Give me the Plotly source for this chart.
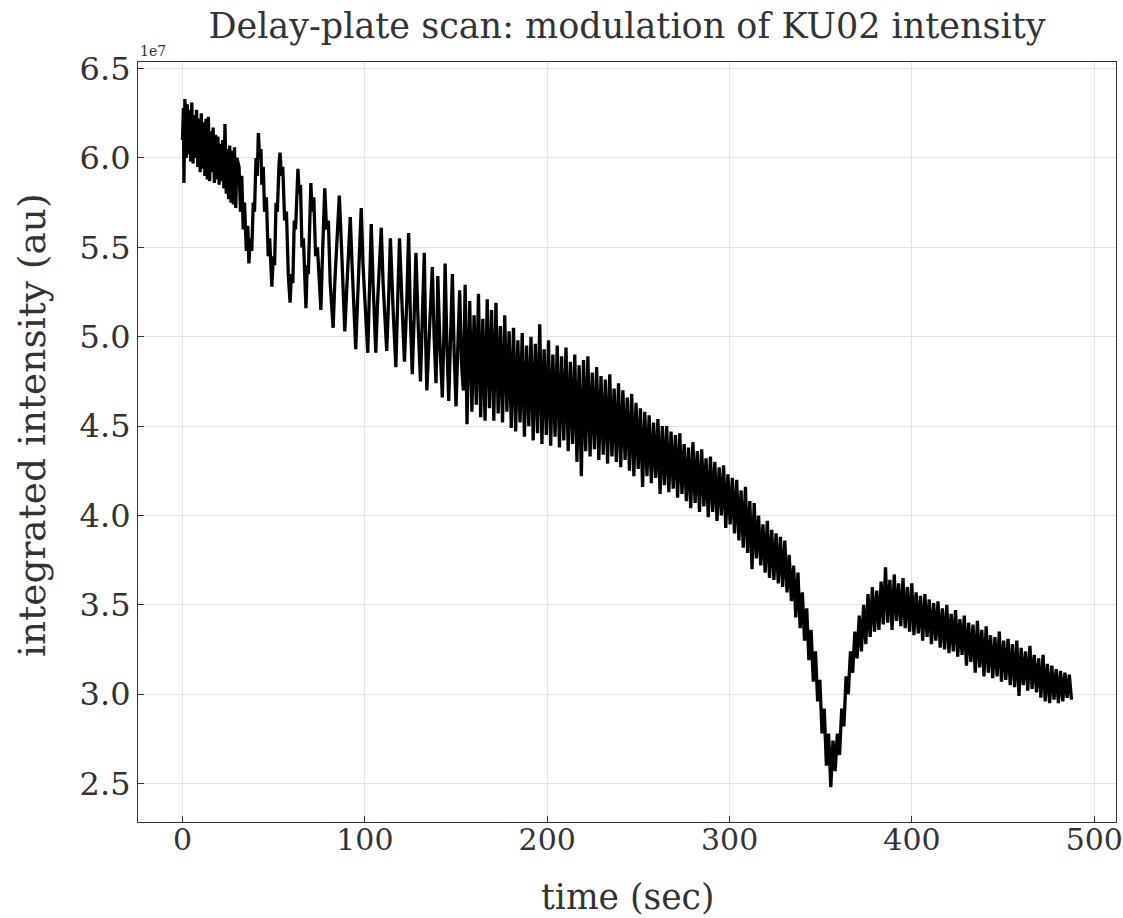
import numpy as np
import plotly.graph_objects as go

# ---- data (intensity in units of 1e7) ----
# early segment: extrema (time in sec)
t_early = [0, 0.5, 0.8, 1.3, 2.0, 2.6, 3.2, 3.8, 4.5, 5.1, 5.8, 6.4, 7.1, 7.7, 8.4, 9.0, 9.7, 10.3,
           11.0, 11.6, 12.3, 12.9, 13.6, 14.2, 14.9, 15.5, 16.2, 16.8, 17.5, 18.1, 18.8, 19.4, 20.1,
           20.7, 21.4, 22.0, 22.7, 23.3, 24.0, 24.6, 25.3, 25.9, 26.6, 27.2, 27.9, 28.5, 29.2, 29.8,
           31.0, 31.8, 32.5, 33.3, 34.0, 35.0, 35.8, 36.4, 37.2, 38.0, 38.8, 39.5, 40.3, 41.0, 41.6,
           42.3, 43.0, 43.5, 44.3, 45.0, 46.0, 47.0, 47.8, 49.0, 49.8, 50.5, 51.3, 52.0, 53.0, 53.5,
           54.2, 55.0, 56.0, 57.0, 58.0, 59.0, 59.7, 60.5, 61.3, 62.0, 63.3, 64.0, 64.7, 65.5, 66.3,
           67.7, 68.4, 69.0, 70.4, 71.0, 72.0, 73.0, 74.0, 75.9, 76.6, 77.2, 78.0, 79.0, 80.0, 81.0,
           82.6, 83.5, 84.5, 86.0, 87.0, 88.0, 89.0, 90.0, 91.0, 92.0, 93.0, 94.0, 95.0, 96.0, 97.0,
           98.0, 99.0, 100.0, 101.6, 102.5, 103.5, 104.5, 106.0, 107.0, 109.0, 110.0, 112.0, 113.0,
           114.0, 115.5, 117.0, 118.0, 119.0, 120.5, 121.7, 123.0, 124.0, 125.0, 126.0, 127.0, 128.0,
           129.3, 130.5, 131.5, 132.6, 133.3, 134.0, 135.5, 137.0, 138.0, 139.0, 139.6, 140.0, 141.2,
           142.5, 143.3, 144.0, 145.0, 146.0, 147.0, 148.0, 149.0, 150.0, 151.0, 152.0, 153.0, 154.0,
           155.0, 156.0]
v_early = [6.10, 6.28, 5.86, 6.33, 6.00, 6.30, 6.02, 6.27, 5.98, 6.31, 5.97, 6.24, 6.00, 6.27, 5.95,
           6.22, 5.92, 6.25, 5.94, 6.20, 5.90, 6.22, 5.88, 6.23, 5.87, 6.15, 5.92, 6.17, 5.86, 6.13,
           5.88, 6.12, 5.85, 6.08, 5.87, 6.10, 5.83, 6.19, 5.80, 6.05, 5.77, 6.07, 5.75, 6.04, 5.74,
           6.06, 5.72, 6.00,
           5.95, 5.70, 5.90, 5.60, 5.75, 5.48, 5.62, 5.41, 5.55, 5.48, 5.75, 5.70, 6.00, 5.90, 6.14,
           6.00, 6.05, 5.85, 5.95, 5.70, 5.78, 5.45, 5.55, 5.28, 5.45, 5.40, 5.75, 5.70, 5.98, 6.03,
           5.90, 5.95, 5.65, 5.70, 5.35, 5.19, 5.35, 5.30, 5.65, 5.60, 5.94, 5.80, 5.85, 5.50, 5.55,
           5.16, 5.40, 5.35, 5.86, 5.70, 5.78, 5.45, 5.50, 5.15, 5.40, 5.55, 5.83, 5.60, 5.65, 5.30,
           5.05, 5.30, 5.50, 5.79, 5.55, 5.30, 5.03, 5.25, 5.45, 5.67, 5.40, 5.20, 4.93, 5.20, 5.45,
           5.72, 5.40, 5.20, 4.91, 5.25, 5.63, 5.30, 4.91, 5.20, 5.61, 5.30, 4.92, 5.20,
           5.55, 5.15, 4.83, 5.20, 5.55, 5.15, 4.86, 5.20, 5.58, 5.10, 4.79, 5.10, 5.47,
           5.05, 4.75, 5.10, 5.47, 5.00, 4.70, 5.05, 5.39, 5.00, 4.74, 5.00, 5.34, 4.95,
           4.66, 5.00, 5.41, 4.95, 4.64, 5.00, 5.35, 4.90, 4.61, 4.95, 5.26, 4.85, 4.70,
           5.29, 4.51]

# dense segment: uniformly sampled from 157.5 s every 1.2 s, alternating highs and lows
t_dense_start = 157.5
t_dense_step = 1.2
v_dense = [
    5.20, 4.58, 5.12, 4.62, 5.24, 4.55, 5.10, 4.53, 5.21, 4.60,
    5.15, 4.53, 5.19, 4.57, 5.06, 4.52, 5.12, 4.58, 5.03, 4.49,
    5.05, 4.47, 4.98, 4.52, 5.02, 4.44, 4.95, 4.50, 5.00, 4.42,
    4.96, 4.46, 5.07, 4.40, 4.93, 4.45, 4.98, 4.39, 4.90, 4.44,
    4.95, 4.38, 4.89, 4.42, 4.94, 4.36, 4.86, 4.40, 4.90, 4.30,
    4.84, 4.22, 4.87, 4.36, 4.89, 4.33, 4.80, 4.37, 4.83, 4.31,
    4.78, 4.34, 4.76, 4.29, 4.79, 4.33, 4.71, 4.30, 4.74, 4.27,
    4.70, 4.31, 4.66, 4.25, 4.68, 4.22, 4.63, 4.26, 4.60, 4.16,
    4.58, 4.22, 4.56, 4.18, 4.52, 4.21, 4.54, 4.12, 4.50, 4.17,
    4.50, 4.13, 4.47, 4.15, 4.45, 4.10, 4.46, 4.12, 4.40, 4.08,
    4.38, 4.04, 4.41, 4.07, 4.36, 4.02, 4.37, 4.05, 4.32, 3.99,
    4.33, 4.02, 4.30, 3.97, 4.27, 4.00, 4.28, 3.93, 4.23, 3.95,
    4.21, 3.90, 4.20, 3.86, 4.14, 3.82, 4.16, 3.79, 4.08, 3.70,
    4.07, 3.76, 4.00, 3.72, 3.95, 3.68, 3.97, 3.65, 3.92, 3.64,
    3.90, 3.62, 3.88, 3.60, 3.86, 3.57, 3.78, 3.52, 3.72, 3.43,
    3.68, 3.37, 3.57, 3.30, 3.48, 3.19, 3.36, 3.07, 3.24, 2.96,
    3.08, 2.78, 2.92, 2.60, 2.78, 2.48, 2.74, 2.57, 2.78, 2.66,
    2.92, 2.82, 3.10, 3.00, 3.24, 3.12, 3.35, 3.20, 3.44, 3.24,
    3.50, 3.28, 3.56, 3.32, 3.60, 3.35, 3.58, 3.36, 3.63, 3.39,
    3.71, 3.40, 3.64, 3.36, 3.67, 3.41, 3.62, 3.38, 3.65, 3.37,
    3.60, 3.35, 3.62, 3.33, 3.57, 3.34, 3.55, 3.30, 3.56, 3.32,
    3.53, 3.28, 3.51, 3.30, 3.52, 3.26, 3.48, 3.25, 3.50, 3.23,
    3.45, 3.24, 3.47, 3.21, 3.42, 3.22, 3.44, 3.16, 3.40, 3.18,
    3.39, 3.12, 3.41, 3.15, 3.36, 3.10, 3.38, 3.12, 3.33, 3.09,
    3.32, 3.10, 3.35, 3.07, 3.30, 3.08, 3.31, 3.05, 3.28, 3.04,
    3.30, 2.99, 3.26, 3.05, 3.24, 3.02, 3.27, 3.03, 3.22, 3.01,
    3.20, 2.98, 3.22, 2.96, 3.17, 2.95, 3.16, 2.97, 3.14, 2.95,
    3.13, 2.96, 3.12, 2.98, 3.11, 2.97,
]
t_dense = t_dense_start + t_dense_step * np.arange(len(v_dense))

x_ticks = [0, 100, 200, 300, 400, 500]
y_ticks = [2.5, 3.0, 3.5, 4.0, 4.5, 5.0, 5.5, 6.0, 6.5]

time = np.concatenate([np.array(t_early), t_dense])
intensity = np.concatenate([np.array(v_early), np.array(v_dense)])

# ---- figure ----
FONT = "DejaVu Serif"
TXT = "#333333"
W, H = 1123, 918
L, R, T, B = 138, 7, 62, 96
PW, PH = W - L - R, H - T - B

fig = go.Figure()
fig.add_trace(go.Scatter(x=time, y=intensity, mode="lines",
                         line=dict(color="black", width=3.3), showlegend=False))

axis_common = dict(showline=True, mirror=True, linecolor="#333333", linewidth=1.2,
                   showgrid=True, gridcolor="#e3e3e3", gridwidth=1, zeroline=False,
                   ticks="inside", ticklen=6, tickwidth=1.2, tickcolor="#333333",
                   ticklabeloverflow="allow", automargin=False)

fig.update_layout(
    width=W, height=H, autosize=False,
    margin=dict(l=L, r=R, t=T, b=B, autoexpand=False),
    paper_bgcolor="white", plot_bgcolor="white",
    xaxis=dict(range=[-24.4, 511.9], tickvals=x_ticks, ticklabelstandoff=-9,
               tickfont=dict(family=FONT, size=30, color=TXT), **axis_common),
    yaxis=dict(range=[2.285, 6.537], tickvals=y_ticks, tickformat=".1f",
               tickfont=dict(family=FONT, size=32, color=TXT), **axis_common),
    title=dict(text="Delay-plate scan: modulation of KU02 intensity",
               font=dict(family=FONT, size=35, color=TXT),
               x=(L + PW / 2) / W, xanchor="center",
               y=1 - 26 / H, yanchor="middle"),
    annotations=[
        dict(text="time (sec)", xref="paper", yref="paper", x=0.5, y=(PH + T - 897) / PH,
             xanchor="center", yanchor="middle", showarrow=False,
             font=dict(family=FONT, size=34.5, color=TXT)),
        dict(text="integrated intensity (au)", xref="paper", yref="paper",
             x=(32 - L) / PW, y=(PH + T - 425) / PH, textangle=-90,
             xanchor="center", yanchor="middle", showarrow=False,
             font=dict(family=FONT, size=37.5, color=TXT)),
        dict(text="1e7", xref="paper", yref="paper", x=0, y=(PH + T - 51) / PH,
             xanchor="left", yanchor="middle", showarrow=False,
             font=dict(family=FONT, size=14, color=TXT)),
    ],
)

fig.write_html("out.html")
